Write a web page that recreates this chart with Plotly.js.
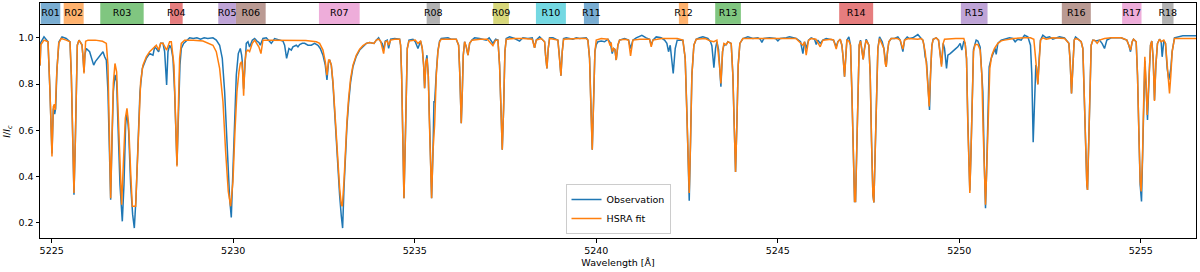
<!DOCTYPE html>
<html>
<head>
<meta charset="utf-8">
<script src="https://cdn.plot.ly/plotly-3.0.1.min.js"></script>
<style>html,body{margin:0;padding:0;background:#fff;}#chart{width:1200px;height:272px;}</style>
</head>
<body>
<div id="chart"></div>
<script>
// Region bands (wavelength, Å)
const regionNames = ["R01","R02","R03","R04","R05","R06","R07","R08","R09","R10","R11","R12","R13","R14","R15","R16","R17","R18"];
const regionStart = [5224.697,5225.330,5226.338,5228.258,5229.588,5230.076,5232.362,5235.328,5237.162,5238.338,5239.660,5242.276,5243.276,5246.691,5250.043,5252.824,5254.485,5255.586];
const regionEnd   = [5225.237,5225.881,5227.534,5228.608,5230.076,5230.894,5233.483,5235.694,5237.594,5239.164,5240.073,5242.532,5243.984,5247.627,5250.778,5253.623,5255.019,5255.901];
const regionColors = ["#1f77b4","#ff7f0e","#2ca02c","#d62728","#9467bd","#8c564b","#e377c2","#7f7f7f","#bcbd22","#17becf","#1f77b4","#ff7f0e","#2ca02c","#d62728","#9467bd","#8c564b","#e377c2","#7f7f7f"];

const xTicks = [5225,5230,5235,5240,5245,5250,5255];
const yTicks = [0.2,0.4,0.6,0.8,1.0];

// Observed spectrum [wavelength, I/Ic]
const observation = [
[5224.68,0.88],[5224.70,0.98],[5224.788,1.004],[5224.898,0.983],[5224.953,0.767],[5225.008,0.50],[5225.045,0.695],[5225.082,0.670],[5225.109,0.695],[5225.146,0.868],[5225.201,0.983],[5225.284,1.004],[5225.40,0.997],[5225.504,0.983],[5225.541,0.839],[5225.577,0.552],[5225.614,0.322],[5225.651,0.552],[5225.678,0.839],[5225.706,0.968],[5225.752,0.990],[5225.834,0.97],[5225.862,0.92],[5225.89,0.853],[5225.917,0.93],[5225.953,0.954],[5226.045,0.940],[5226.091,0.911],[5226.156,0.882],[5226.202,0.897],[5226.275,0.911],[5226.367,0.932],[5226.413,0.940],[5226.459,0.918],[5226.505,0.904],[5226.55,0.767],[5226.587,0.552],[5226.624,0.300],[5226.661,0.552],[5226.698,0.767],[5226.743,0.84],[5226.789,0.81],[5226.826,0.624],[5226.881,0.365],[5226.945,0.207],[5226.991,0.365],[5227.037,0.624],[5227.074,0.681],[5227.12,0.595],[5227.175,0.365],[5227.23,0.236],[5227.276,0.178],[5227.322,0.307],[5227.377,0.552],[5227.432,0.767],[5227.496,0.868],[5227.606,0.911],[5227.698,0.932],[5227.79,0.925],[5227.836,0.96],[5227.882,0.954],[5227.946,0.94],[5228.001,0.976],[5228.065,0.976],[5228.111,0.94],[5228.166,0.796],[5228.203,0.94],[5228.249,0.968],[5228.295,0.954],[5228.341,0.911],[5228.386,0.767],[5228.451,0.451],[5228.497,0.695],[5228.533,0.882],[5228.57,0.954],[5228.634,0.976],[5228.708,0.986],
[5228.8,1.0],[5228.9,0.997],[5229.0,1.0],[5229.1,0.994],[5229.2,1.0],[5229.3,0.997],[5229.442,1.0],[5229.534,0.990],[5229.626,0.968],[5229.699,0.911],[5229.764,0.767],[5229.828,0.552],[5229.901,0.307],[5229.947,0.224],[5229.993,0.408],[5230.039,0.652],[5230.085,0.839],[5230.14,0.932],[5230.195,0.954],[5230.232,0.925],[5230.25,0.897],[5230.287,0.78],[5230.323,0.911],[5230.36,0.976],[5230.406,0.983],[5230.452,0.960],[5230.525,0.990],[5230.59,0.997],[5230.654,0.986],[5230.709,0.980],[5230.746,0.968],[5230.819,0.997],[5230.911,1.0],[5231.049,0.976],[5231.141,0.997],[5231.278,0.990],[5231.37,0.986],[5231.416,0.968],[5231.471,0.911],[5231.535,0.954],[5231.6,0.947],[5231.645,0.961],[5231.737,0.968],[5231.783,0.961],[5231.829,0.971],[5231.903,0.976],[5231.967,0.976],[5232.059,0.968],[5232.15,0.968],[5232.242,0.976],[5232.334,0.968],[5232.398,0.954],[5232.472,0.925],[5232.536,0.882],[5232.582,0.818],[5232.628,0.897],[5232.656,0.904],[5232.702,0.882],[5232.748,0.80],[5232.794,0.68],[5232.84,0.55],[5232.885,0.42],[5232.931,0.32],[5232.977,0.23],[5233.014,0.178],[5233.051,0.35],[5233.087,0.49],[5233.133,0.62],[5233.179,0.72],[5233.234,0.81],[5233.299,0.875],[5233.39,0.92],[5233.482,0.947],[5233.574,0.961],[5233.666,0.976],[5233.758,0.980],[5233.877,0.976],[5233.941,0.990],[5234.005,1.0],[5234.061,0.983],[5234.106,0.975],[5234.143,0.947],[5234.189,0.986],[5234.244,0.990],[5234.281,0.954],[5234.336,0.994],[5234.446,0.997],[5234.584,0.994],[5234.611,0.968],[5234.639,0.839],[5234.666,0.624],[5234.703,0.307],[5234.74,0.552],[5234.767,0.839],[5234.795,0.954],[5234.841,0.990],[5234.951,0.994],[5235.015,0.983],[5235.089,0.954],[5235.162,0.986],[5235.208,0.954],[5235.245,0.882],[5235.272,0.782],[5235.309,0.897],[5235.337,0.925],[5235.373,0.839],[5235.401,0.652],[5235.428,0.451],[5235.465,0.307],[5235.502,0.50],[5235.529,0.727],[5235.548,0.72],[5235.594,0.85],[5235.639,0.945],[5235.685,0.986],[5235.731,0.997],[5235.915,1.0],[5236.0,0.994],[5236.144,0.994],[5236.209,0.968],[5236.236,0.868],[5236.264,0.724],[5236.282,0.631],[5236.31,0.767],[5236.337,0.925],[5236.374,0.983],[5236.42,0.961],[5236.466,0.925],[5236.512,0.976],[5236.576,0.990],[5236.649,1.0],
[5236.787,0.997],[5236.97,0.99],[5237.05,1.0],[5237.154,0.976],[5237.227,0.994],[5237.292,0.990],[5237.337,0.882],[5237.374,0.652],[5237.411,0.516],[5237.448,0.695],[5237.484,0.940],[5237.521,0.997],[5237.613,1.004],[5237.751,0.997],[5237.888,0.986],[5237.98,1.0],[5238.118,0.997],[5238.237,1.0],[5238.301,0.957],[5238.347,0.990],[5238.439,1.004],[5238.485,0.997],[5238.577,0.983],[5238.604,0.925],[5238.641,0.868],[5238.678,0.954],[5238.714,1.0],[5238.806,1.0],[5238.944,0.990],[5238.99,0.911],[5239.027,0.836],[5239.063,0.940],[5239.1,0.997],[5239.173,1.0],[5239.357,0.994],[5239.45,1.0],[5239.541,0.997],[5239.724,1.0],[5239.77,0.990],[5239.816,0.911],[5239.853,0.695],[5239.89,0.516],[5239.926,0.724],[5239.963,0.940],[5240.0,0.971],[5240.046,0.983],[5240.137,0.986],[5240.229,0.983],[5240.321,0.994],[5240.385,0.980],[5240.44,0.932],[5240.477,0.954],[5240.514,0.95],[5240.55,0.904],[5240.596,0.968],[5240.642,0.990],
[5240.78,0.997],[5240.89,0.99],[5240.945,0.954],[5241.009,0.990],[5241.101,1.0],[5241.257,1.011],[5241.376,1.0],[5241.468,0.994],[5241.514,0.968],[5241.56,0.990],[5241.652,1.004],[5241.789,1.0],[5241.881,0.99],[5241.945,0.976],[5241.991,0.94],[5242.037,0.968],[5242.083,0.90],[5242.12,0.846],[5242.175,0.954],[5242.23,0.990],[5242.386,0.990],[5242.45,0.911],[5242.496,0.681],[5242.533,0.40],[5242.561,0.296],[5242.597,0.552],[5242.634,0.839],[5242.689,0.968],[5242.753,0.994],[5242.845,1.0],[5242.937,1.004],[5243.075,0.997],[5243.148,0.983],[5243.185,0.966],[5243.24,0.871],[5243.286,0.954],[5243.323,0.983],[5243.368,0.95],[5243.396,0.87],[5243.433,0.789],[5243.479,0.940],[5243.515,0.968],[5243.58,0.971],[5243.625,0.983],[5243.717,0.976],[5243.763,0.839],[5243.80,0.624],[5243.837,0.420],[5243.873,0.624],[5243.91,0.882],[5243.956,0.976],[5244.039,0.997],[5244.176,1.004],[5244.314,0.997],[5244.452,1.0],[5244.516,0.994],[5244.562,0.980],[5244.617,0.997],
[5244.774,1.0],[5244.939,0.997],[5245.003,0.987],[5245.067,0.997],[5245.233,1.0],[5245.324,1.004],[5245.508,0.997],[5245.627,0.983],[5245.692,0.932],[5245.738,0.983],[5245.783,0.954],[5245.848,0.990],[5245.921,1.0],[5246.013,0.994],[5246.059,0.971],[5246.105,0.99],[5246.169,0.976],[5246.242,0.990],[5246.334,0.997],[5246.472,0.994],[5246.536,0.990],[5246.61,0.961],[5246.656,0.983],[5246.72,0.994],[5246.766,0.968],[5246.802,0.911],[5246.839,0.832],[5246.876,0.925],[5246.903,0.990],[5246.958,1.004],[5247.004,0.968],[5247.041,0.767],[5247.078,0.451],[5247.115,0.293],[5247.142,0.293],[5247.17,0.480],[5247.206,0.839],[5247.243,0.968],[5247.28,0.990],[5247.317,0.954],[5247.353,0.907],[5247.39,0.954],[5247.436,0.994],[5247.509,0.968],[5247.546,0.839],[5247.583,0.552],[5247.62,0.322],[5247.647,0.289],[5247.684,0.480],[5247.72,0.767],[5247.757,0.954],[5247.803,1.004],[5247.877,0.983],[5247.922,0.954],[5247.959,0.889],[5247.987,0.875],[5248.023,0.940],[5248.06,0.983],[5248.124,0.997],[5248.216,0.997],[5248.308,1.004],[5248.372,0.990],[5248.446,0.940],[5248.492,0.990],[5248.565,1.004],[5248.629,0.997],
[5248.72,1.0],[5248.858,1.014],[5248.95,0.997],[5248.996,0.990],[5249.024,0.971],[5249.06,0.918],[5249.097,0.897],[5249.134,0.80],[5249.18,0.688],[5249.207,0.839],[5249.244,0.966],[5249.281,0.994],[5249.363,1.0],[5249.428,0.990],[5249.473,0.93],[5249.51,0.885],[5249.556,0.976],[5249.593,0.954],[5249.648,0.868],[5249.685,0.925],[5249.749,0.932],[5249.822,0.940],[5249.887,0.951],[5249.96,0.961],[5250.024,0.976],[5250.07,0.947],[5250.125,0.986],[5250.162,0.976],[5250.199,0.91],[5250.235,0.64],[5250.263,0.42],[5250.29,0.34],[5250.318,0.48],[5250.355,0.78],[5250.391,0.95],[5250.465,0.990],[5250.511,0.986],[5250.575,0.96],[5250.621,0.86],[5250.649,0.767],[5250.685,0.480],[5250.722,0.264],[5250.75,0.408],[5250.786,0.695],[5250.823,0.875],[5250.878,0.911],[5250.924,0.932],[5250.988,0.954],[5251.016,0.928],[5251.062,0.976],[5251.154,0.990],[5251.245,0.994],[5251.383,1.0],[5251.475,0.997],[5251.539,0.983],[5251.612,0.994],[5251.704,0.990],[5251.796,1.011],[5251.888,1.004],[5251.961,0.968],[5251.998,0.839],[5252.035,0.549],[5252.071,0.767],[5252.108,0.882],[5252.127,0.875],[5252.163,0.80],[5252.2,0.911],[5252.237,0.990],[5252.301,1.011],[5252.393,1.0],[5252.485,1.004],[5252.576,0.994],
[5252.761,1.004],[5252.898,1.0],[5253.018,0.976],[5253.054,0.897],[5253.091,0.760],[5253.128,0.897],[5253.165,0.990],[5253.201,1.004],[5253.266,0.994],[5253.357,0.983],[5253.403,0.954],[5253.44,0.767],[5253.477,0.509],[5253.513,0.365],[5253.532,0.343],[5253.559,0.509],[5253.596,0.796],[5253.633,0.968],[5253.679,0.990],[5253.77,0.986],[5253.862,0.990],[5253.936,0.975],[5254.0,0.954],[5254.064,0.990],[5254.184,1.0],[5254.321,1.0],[5254.459,1.0],[5254.551,0.994],[5254.615,0.990],[5254.67,0.968],[5254.716,0.940],[5254.762,0.983],[5254.799,0.994],[5254.872,0.983],[5254.909,0.839],[5254.946,0.595],[5254.982,0.365],[5255.019,0.293],[5255.046,0.450],[5255.074,0.695],[5255.111,0.90],[5255.147,0.78],[5255.184,0.645],[5255.23,0.839],[5255.267,0.968],[5255.303,0.986],[5255.34,0.911],[5255.377,0.731],[5255.414,0.882],[5255.459,0.976],[5255.515,0.994],[5255.56,0.983],[5255.588,0.918],[5255.634,0.986],[5255.68,0.976],[5255.726,0.868],[5255.772,0.818],[5255.827,0.868],[5255.863,0.940],[5255.927,1.0],[5256.019,1.004],[5256.157,1.009],[5256.34,1.009],[5256.52,1.009]
];

// HSRA model fit [wavelength, I/Ic]
const hsraFit = [
[5224.68,0.88],[5224.70,0.97],[5224.79,0.990],[5224.90,0.983],[5224.953,0.767],[5225.008,0.487],[5225.045,0.703],[5225.073,0.713],[5225.10,0.688],[5225.137,0.839],[5225.192,0.976],[5225.265,0.997],[5225.40,0.990],[5225.504,0.983],[5225.541,0.839],[5225.577,0.552],[5225.614,0.329],[5225.651,0.552],[5225.678,0.839],[5225.706,0.968],[5225.752,0.990],[5225.834,0.97],[5225.862,0.92],[5225.89,0.846],[5225.917,0.93],[5225.935,0.985],[5226.0,0.99],[5226.2,0.990],[5226.4,0.985],[5226.505,0.976],[5226.55,0.882],[5226.587,0.624],[5226.624,0.307],[5226.661,0.566],[5226.698,0.803],[5226.743,0.889],[5226.789,0.853],[5226.826,0.695],[5226.881,0.451],[5226.927,0.279],[5226.973,0.451],[5227.028,0.652],[5227.074,0.695],[5227.12,0.624],[5227.175,0.422],[5227.221,0.272],[5227.313,0.272],[5227.358,0.451],[5227.404,0.652],[5227.45,0.810],[5227.514,0.882],[5227.606,0.918],[5227.698,0.940],[5227.79,0.954],[5227.836,0.961],[5227.882,0.968],[5227.946,0.947],[5228.001,0.976],[5228.065,0.976],[5228.166,0.947],[5228.249,0.983],[5228.295,0.983],[5228.368,0.882],[5228.414,0.624],[5228.451,0.444],[5228.487,0.681],[5228.524,0.911],[5228.57,0.976],[5228.662,0.990],
[5228.9,0.99],[5229.167,0.986],[5229.442,0.968],[5229.534,0.940],[5229.626,0.868],[5229.718,0.724],[5229.791,0.509],[5229.864,0.336],[5229.929,0.272],[5229.993,0.379],[5230.048,0.595],[5230.103,0.767],[5230.158,0.853],[5230.195,0.889],[5230.232,0.897],[5230.26,0.85],[5230.287,0.750],[5230.323,0.897],[5230.36,0.940],[5230.406,0.947],[5230.452,0.940],[5230.525,0.976],[5230.59,0.990],[5230.654,0.976],[5230.709,0.96],[5230.764,0.932],[5230.819,0.99],[5231.0,0.99],[5231.5,0.99],[5232.0,0.988],[5232.288,0.983],[5232.38,0.976],[5232.472,0.947],[5232.536,0.897],[5232.582,0.839],[5232.628,0.904],[5232.656,0.904],[5232.702,0.882],[5232.748,0.810],[5232.794,0.695],[5232.84,0.580],[5232.885,0.451],[5232.931,0.351],[5232.977,0.279],[5233.005,0.272],[5233.051,0.379],[5233.087,0.509],[5233.133,0.638],[5233.179,0.739],[5233.234,0.825],[5233.299,0.882],[5233.39,0.925],[5233.482,0.951],[5233.574,0.966],[5233.666,0.976],[5233.758,0.980],[5233.877,0.976],[5233.941,0.990],[5234.005,0.994],[5234.061,0.986],[5234.143,0.932],[5234.189,0.983],[5234.244,0.986],[5234.281,0.968],[5234.336,0.990],[5234.446,0.994],[5234.584,0.994],[5234.611,0.968],[5234.639,0.839],[5234.666,0.624],[5234.703,0.307],[5234.74,0.552],[5234.767,0.839],[5234.795,0.954],[5234.841,0.986],[5235.015,0.990],[5235.089,0.976],[5235.162,0.986],[5235.208,0.954],[5235.245,0.882],[5235.272,0.782],[5235.309,0.897],[5235.337,0.911],[5235.373,0.839],[5235.401,0.652],[5235.428,0.451],[5235.465,0.307],[5235.502,0.509],[5235.548,0.624],[5235.594,0.839],[5235.639,0.940],[5235.685,0.983],[5235.731,0.994],[5236.144,0.994],[5236.209,0.968],[5236.236,0.868],[5236.264,0.724],[5236.282,0.631],[5236.31,0.767],[5236.337,0.925],[5236.374,0.983],[5236.42,0.961],[5236.466,0.925],[5236.512,0.976],[5236.576,0.990],
[5236.8,0.994],[5237.0,0.994],[5237.108,0.976],[5237.154,0.966],[5237.227,0.990],[5237.292,0.990],[5237.337,0.882],[5237.374,0.652],[5237.411,0.516],[5237.448,0.695],[5237.484,0.940],[5237.521,0.994],[5237.75,0.997],[5238.0,0.997],[5238.237,0.994],[5238.301,0.957],[5238.347,0.990],[5238.485,0.997],[5238.577,0.983],[5238.604,0.925],[5238.641,0.868],[5238.678,0.954],[5238.714,0.997],[5238.944,0.990],[5238.99,0.911],[5239.027,0.836],[5239.063,0.940],[5239.10,0.994],[5239.5,0.997],[5239.724,0.997],[5239.77,0.990],[5239.816,0.911],[5239.853,0.695],[5239.89,0.516],[5239.926,0.724],[5239.963,0.940],[5240.0,0.990],[5240.137,0.997],[5240.321,0.994],[5240.385,0.966],[5240.41,0.98],[5240.44,0.940],[5240.477,0.954],[5240.514,0.95],[5240.55,0.904],[5240.596,0.968],[5240.642,0.990],
[5240.78,0.994],[5240.89,0.99],[5240.945,0.922],[5241.009,0.990],[5241.2,0.994],[5241.468,0.994],[5241.514,0.961],[5241.56,0.990],[5241.8,0.997],[5242.23,0.997],[5242.386,0.990],[5242.45,0.911],[5242.496,0.681],[5242.533,0.422],[5242.561,0.329],[5242.597,0.552],[5242.634,0.839],[5242.689,0.968],[5242.753,0.994],[5243.0,0.997],[5243.15,0.986],[5243.24,0.983],[5243.323,0.990],[5243.396,0.88],[5243.433,0.803],[5243.479,0.940],[5243.515,0.976],[5243.58,0.97],[5243.625,0.983],[5243.717,0.976],[5243.763,0.839],[5243.80,0.624],[5243.837,0.420],[5243.873,0.624],[5243.91,0.882],[5243.956,0.976],[5244.039,0.997],[5244.3,0.997],[5244.6,0.997],
[5245.0,0.997],[5245.5,0.997],[5245.692,0.968],[5245.738,0.983],[5245.783,0.925],[5245.848,0.990],[5245.92,0.997],[5246.05,0.994],[5246.169,0.961],[5246.242,0.990],[5246.47,0.994],[5246.536,0.990],[5246.61,0.951],[5246.656,0.983],[5246.72,0.994],[5246.766,0.968],[5246.802,0.911],[5246.839,0.832],[5246.876,0.925],[5246.903,0.990],[5246.958,0.986],[5247.004,0.968],[5247.041,0.767],[5247.078,0.451],[5247.115,0.293],[5247.142,0.293],[5247.17,0.480],[5247.206,0.839],[5247.243,0.968],[5247.28,0.986],[5247.317,0.954],[5247.353,0.907],[5247.39,0.954],[5247.436,0.990],[5247.509,0.968],[5247.546,0.839],[5247.583,0.552],[5247.62,0.322],[5247.647,0.289],[5247.684,0.480],[5247.72,0.767],[5247.757,0.954],[5247.803,0.997],[5247.877,0.968],[5247.922,0.954],[5247.959,0.889],[5247.987,0.875],[5248.023,0.940],[5248.06,0.983],[5248.124,0.997],[5248.3,0.997],[5248.372,0.990],[5248.446,0.951],[5248.492,0.990],[5248.6,0.997],
[5248.858,0.994],[5248.95,0.997],[5248.996,0.990],[5249.06,0.94],[5249.097,0.88],[5249.134,0.80],[5249.171,0.703],[5249.207,0.839],[5249.244,0.966],[5249.281,0.994],[5249.363,1.0],[5249.428,0.990],[5249.473,0.93],[5249.51,0.875],[5249.556,0.976],[5249.593,0.994],[5249.9,0.997],[5250.125,0.997],[5250.162,0.976],[5250.199,0.911],[5250.235,0.624],[5250.263,0.408],[5250.29,0.329],[5250.318,0.480],[5250.355,0.767],[5250.391,0.94],[5250.437,0.971],[5250.511,0.971],[5250.575,0.947],[5250.621,0.839],[5250.658,0.595],[5250.694,0.365],[5250.722,0.279],[5250.759,0.451],[5250.795,0.695],[5250.841,0.868],[5250.896,0.925],[5250.97,0.954],[5251.062,0.976],[5251.154,0.987],[5251.245,0.990],[5251.5,0.997],[5251.8,1.0],[5251.96,1.0],[5252.053,0.994],[5252.09,0.940],[5252.127,0.868],[5252.163,0.799],[5252.2,0.911],[5252.237,0.990],[5252.301,1.0],[5252.393,0.994],[5252.576,1.0],
[5252.761,0.997],[5252.9,0.997],[5253.018,0.976],[5253.054,0.897],[5253.091,0.760],[5253.128,0.897],[5253.165,0.990],[5253.201,0.997],[5253.266,0.994],[5253.357,0.983],[5253.403,0.954],[5253.44,0.767],[5253.477,0.509],[5253.513,0.365],[5253.532,0.343],[5253.559,0.509],[5253.596,0.796],[5253.633,0.968],[5253.679,0.990],[5253.724,0.990],[5253.798,0.976],[5253.862,0.990],[5254.0,0.997],[5254.184,1.0],[5254.459,1.0],[5254.551,0.994],[5254.615,0.990],[5254.67,0.968],[5254.716,0.947],[5254.762,0.983],[5254.799,0.994],[5254.872,0.983],[5254.909,0.839],[5254.946,0.595],[5254.982,0.379],[5255.01,0.336],[5255.046,0.480],[5255.074,0.695],[5255.111,0.918],[5255.147,0.80],[5255.175,0.667],[5255.203,0.75],[5255.23,0.839],[5255.267,0.968],[5255.303,0.986],[5255.34,0.911],[5255.377,0.727],[5255.414,0.882],[5255.459,0.976],[5255.515,0.994],[5255.56,0.983],[5255.634,0.990],[5255.68,0.976],[5255.726,0.868],[5255.79,0.760],[5255.827,0.839],[5255.863,0.940],[5255.927,0.997],[5256.1,0.997],[5256.52,0.997]
];

const FONT = 'DejaVu Sans, sans-serif';

const traces = [
  {
    x: observation.map(p => p[0]), y: observation.map(p => p[1]),
    type: 'scatter', mode: 'lines', name: 'Observation',
    line: {color: '#1f77b4', width: 1.5},
    xaxis: 'x', yaxis: 'y'
  },
  {
    x: hsraFit.map(p => p[0]), y: hsraFit.map(p => p[1]),
    type: 'scatter', mode: 'lines', name: 'HSRA fit',
    line: {color: '#ff7f0e', width: 1.5},
    xaxis: 'x', yaxis: 'y'
  },
  {
    x: regionStart.map((s, i) => (s + regionEnd[i]) / 2),
    y: regionNames.map(() => 0.5),
    text: regionNames,
    type: 'scatter', mode: 'text',
    textposition: 'middle center',
    textfont: {family: FONT, size: 9.5, color: '#000'},
    showlegend: false, hoverinfo: 'skip',
    xaxis: 'x2', yaxis: 'y2'
  }
];

const shapes = regionNames.map((n, i) => ({
  type: 'rect', xref: 'x2', yref: 'y2',
  x0: regionStart[i], x1: regionEnd[i], y0: 0, y1: 1,
  fillcolor: regionColors[i], opacity: 0.6,
  line: {width: 0}, layer: 'below'
}));

const axisCommon = {
  showline: true, mirror: true, linecolor: '#000', linewidth: 1,
  showgrid: false, zeroline: false
};

const layout = {
  width: 1200, height: 272,
  margin: {l: 40, r: 4, t: 3, b: 34},
  paper_bgcolor: '#fff', plot_bgcolor: '#fff',
  font: {family: FONT, size: 9.5, color: '#000'},
  showlegend: true,
  legend: {
    x: 0.5, xanchor: 'center', y: 0.017, yanchor: 'bottom',
    bgcolor: 'rgba(255,255,255,0.85)', bordercolor: '#cccccc', borderwidth: 1,
    font: {family: FONT, size: 9.5, color: '#000'},
    tracegroupgap: 0
  },
  xaxis: Object.assign({}, axisCommon, {
    domain: [0, 1], anchor: 'y',
    range: [5224.678, 5256.52],
    tickmode: 'array', tickvals: xTicks, ticktext: xTicks.map(String),
    ticks: 'outside', ticklen: 3.5, tickwidth: 1, tickcolor: '#000',
    tickfont: {family: FONT, size: 9.5},
    title: {text: 'Wavelength [Å]', standoff: 4, font: {family: FONT, size: 9.5}}
  }),
  yaxis: Object.assign({}, axisCommon, {
    domain: [0, 0.906], anchor: 'x',
    range: [0.135, 1.055],
    tickmode: 'array', tickvals: yTicks, ticktext: yTicks.map(v => v.toFixed(1)),
    ticks: 'outside', ticklen: 3.5, tickwidth: 1, tickcolor: '#000',
    tickfont: {family: FONT, size: 9.5},
    title: {text: '<i>I</i>/<i>I</i><sub><i>c</i></sub>', standoff: 6, font: {family: FONT, size: 9.5}}
  }),
  xaxis2: Object.assign({}, axisCommon, {
    anchor: 'y2', matches: 'x', range: [5224.678, 5256.52],
    showticklabels: false, ticks: ''
  }),
  yaxis2: Object.assign({}, axisCommon, {
    domain: [0.911, 1], anchor: 'x2', range: [0, 1],
    showticklabels: false, ticks: '', fixedrange: true
  }),
  shapes: shapes
};

Plotly.newPlot('chart', traces, layout, {staticPlot: true, displayModeBar: false});
</script>
</body>
</html>
